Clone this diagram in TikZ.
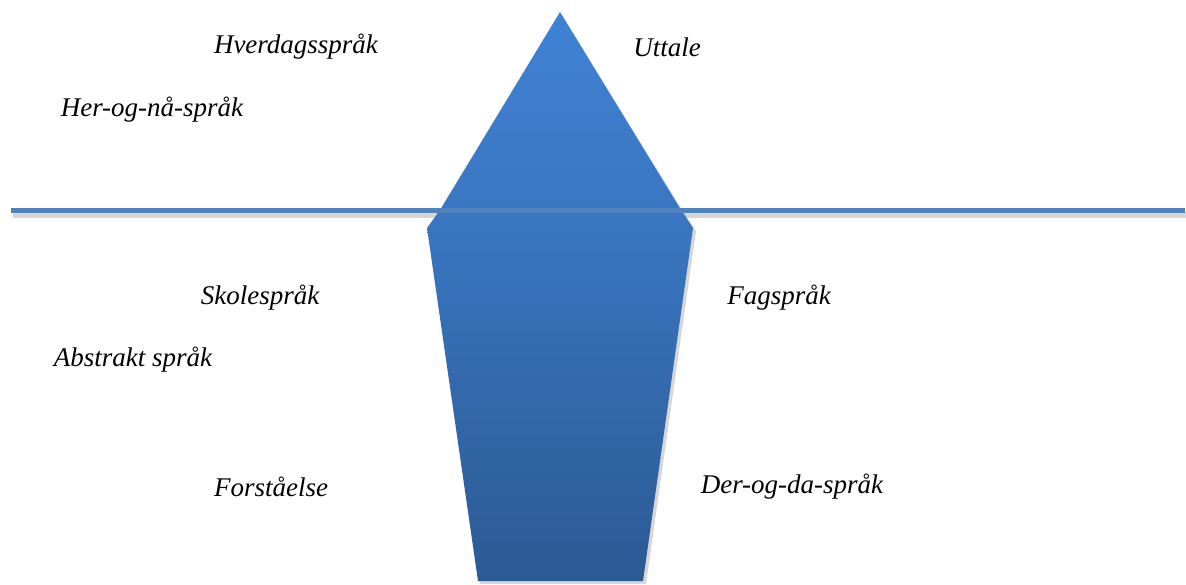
\documentclass[tikz,border=0pt]{standalone}
\usepackage{fontspec}
\setmainfont{Liberation Serif}
\definecolor{topblue}{HTML}{3F82D3}
\definecolor{midblue}{HTML}{3A77C2}
\definecolor{lowblue}{HTML}{2C5A94}
\definecolor{lineblue}{HTML}{4F81BD}
\tikzset{
  lbl/.style={font=\fontsize{27}{32}\selectfont\itshape, inner sep=0pt},
  shadowfill/.style={fill=black, fill opacity=0.16},
}
\begin{document}
\begin{tikzpicture}[x=1pt,y=-1pt]
\useasboundingbox (0,0) rectangle (1186,584);
% shadows
\fill[shadowfill] (562,15) -- (684,213) -- (442,213) -- cycle;
\fill[shadowfill] (442,213) -- (684,213) -- (696,231) -- (646,584) -- (480,584) -- (430,231) -- cycle;
\fill[shadowfill] (13,212) rectangle (1186,218);
% iceberg top
\shade[top color=topblue, bottom color=midblue] (560,12) -- (681,210) -- (440,210) -- cycle;
% iceberg bottom
\shade[top color=midblue, bottom color=lowblue] (440,210) -- (681,210) -- (693,228) -- (643,581) -- (478,581) -- (427,228) -- cycle;
% water line
\coordinate (wl) at (11,210.5);
\coordinate (wr) at (1185,210.5);
\draw[lineblue, line width=5pt] (wl) -- (wr);
% labels
\node[lbl] (hv) at (296,47) {Hverdagsspråk};
\node[lbl] (ut) at (667,47) {Uttale};
\node[lbl] (hn) at (152,110) {Her-og-nå-språk};
\node[lbl] (sk) at (260,298) {Skolespråk};
\node[lbl] (fa) at (779,298) {Fagspråk};
\node[lbl] (ab) at (133,360) {Abstrakt språk};
\node[lbl] (fo) at (271,487) {Forståelse};
\node[lbl] (dd) at (792,487) {Der-og-da-språk};
\end{tikzpicture}
\end{document}
